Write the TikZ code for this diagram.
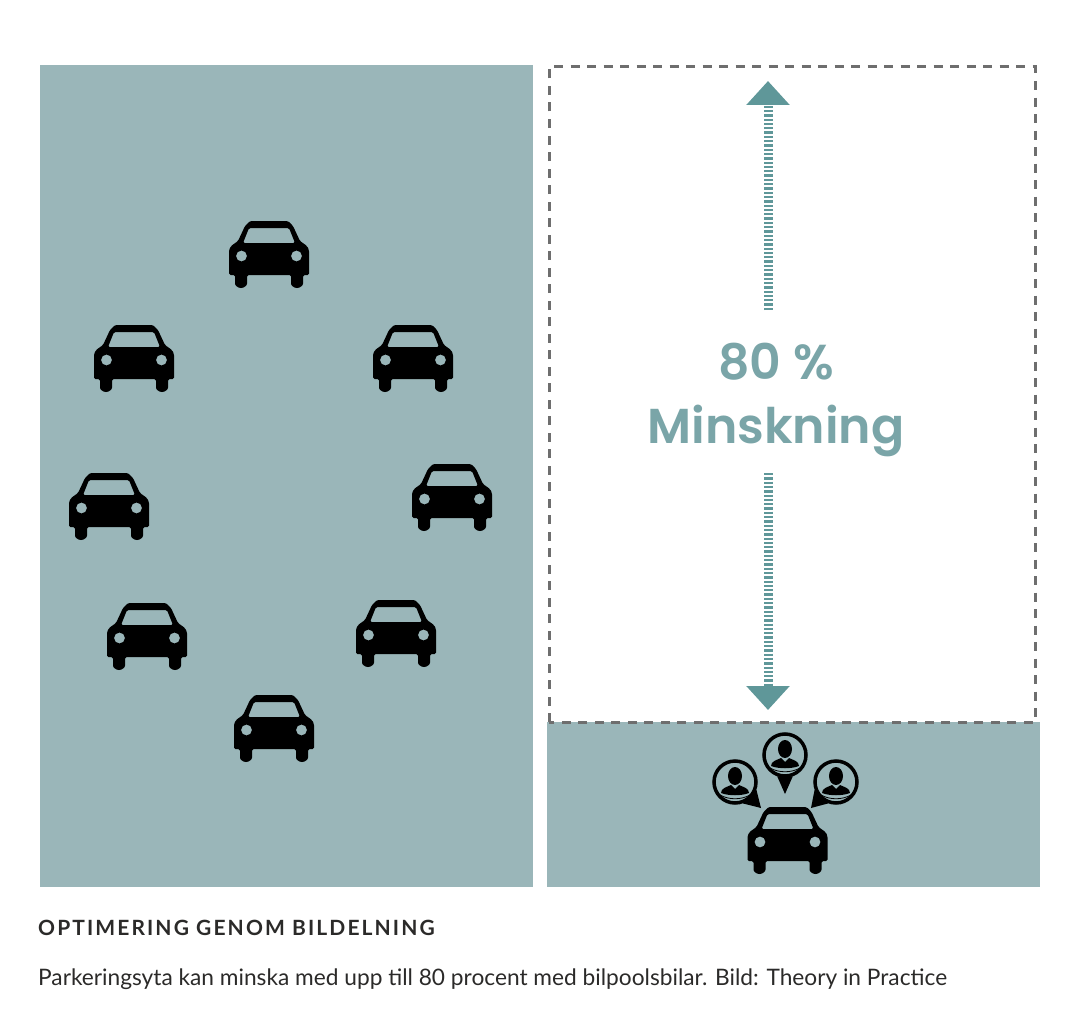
\documentclass[tikz,border=0pt]{standalone}
\usepackage{fontspec}
\setmainfont{Lato}
\newfontfamily\headfont{Poppins}[BoldFont={* SemiBold}]
\newfontfamily\spacedfont[LetterSpace=10]{Lato}
\usepackage{tikz}
\usetikzlibrary{arrows.meta}
\definecolor{parking}{HTML}{9AB6B9}
\definecolor{arrowteal}{HTML}{5F9799}
\definecolor{textteal}{HTML}{7AA5A8}
\definecolor{dashgray}{HTML}{6E6E6E}
\definecolor{captionink}{HTML}{2B2A29}
\tikzset{
	car/.pic={
		\fill [black,even odd rule,rounded corners=1.5pt]
			(-40,54) -- (-40,29) -- (-38,25) -- (-31,20) -- (-24,5) -- (-19,0) -- (19,0) -- (24,5) -- (31,20) -- (38,25) -- (40,29) -- (40,54)
			-- (34,54) -- (34,61) arc [start angle=0,end angle=180,radius=6] -- (22,54) -- (-22,54) -- (-22,61) arc [start angle=0,end angle=180,radius=6] -- (-34,54) -- cycle
			(-20,7) -- (20,7) -- (26,22) -- (-26,22) -- cycle
			(-27.5,35) circle [radius=5.5]
			(27.5,35) circle [radius=5.5];
	},
	person/.pic={
		\fill [black] (0,-6) ellipse [x radius=7,y radius=9];
		\fill [black] (-14,11) .. controls (-14,6) and (-8,5) .. (-4,3) -- (0,7) -- (4,3) .. controls (8,5) and (14,6) .. (14,11) .. controls (6,14) and (-6,14) .. (-14,11) -- cycle;
		\draw [black,line width=.8pt] (-15,13) .. controls (-6,18) and (6,18) .. (15,13);
	},
	ring/.style={draw=black,line width=3.5pt,circle,minimum size=42pt,inner sep=0pt},
	tail/.style={fill=black},
	block/.style={fill=parking},
	stripes/.style={draw=arrowteal,line width=9pt,dash pattern=on 2.3pt off 2pt,-{Triangle[width=42pt,length=24pt,fill=arrowteal]}}
}

\begin{document}
\begin{tikzpicture}[x=1pt,y=-1pt]
	\useasboundingbox (0,0) rectangle (1077,1025);

	\fill [block] (40,65) rectangle (533,887);
	\fill [block] (547,722) rectangle (1040,887);
	\draw [dashgray,line width=3pt,dash pattern=on 9pt off 7.5pt] (549,722) -- (549,67) -- (1035,67) -- (1035,722) -- cycle;

	\pic (cara) at (269,221) {car};
	\pic (carb) at (134,325) {car};
	\pic (carc) at (413,325) {car};
	\pic (card) at (109,473) {car};
	\pic (care) at (452,464) {car};
	\pic (carf) at (147,603) {car};
	\pic (carg) at (396,600) {car};
	\pic (carh) at (274,695) {car};
	\pic (shared) at (787.5,807) {car};

	\node [ring] (pinleft) at (735,782) {};
	\node [ring] (pinmid) at (785,755) {};
	\node [ring] (pinright) at (836,782) {};
	\coordinate (tipleft) at (761,808);
	\coordinate (tipmid) at (785,794);
	\coordinate (tipright) at (811,808);
	\fill [tail] (pinleft.-20) -- (tipleft) -- (pinleft.-70) -- cycle;
	\fill [tail] (pinmid.-70) -- (tipmid) -- (pinmid.-110) -- cycle;
	\fill [tail] (pinright.-110) -- (tipright) -- (pinright.-160) -- cycle;
	\pic (personleft) at (pinleft) {person};
	\pic (personmid) at (pinmid) {person};
	\pic (personright) at (pinright) {person};

	\node [textteal,font=\headfont\bfseries\fontsize{49}{60}\selectfont,inner sep=0pt] (percent) at (776,362) {80 \%};
	\node [textteal,font=\headfont\bfseries\fontsize{49}{60}\selectfont,inner sep=0pt] (minskning) at (776,431) {Minskning};

	\coordinate (upstart) at (768,310);
	\coordinate (uptip) at (768,81);
	\coordinate (downstart) at (768,473);
	\coordinate (downtip) at (768,710);
	\draw [stripes] (upstart) -- (uptip);
	\draw [stripes] (downstart) -- (downtip);

	\node [captionink,anchor=west,inner sep=0pt,font=\spacedfont\bfseries\fontsize{21}{26}\selectfont] (title) at (38,928) {OPTIMERING GENOM BILDELNING};
	\node [captionink,anchor=west,inner sep=0pt,font=\fontsize{22.7}{28}\selectfont] (caption) at (38,979) {Parkeringsyta kan minska med upp till 80 procent med bilpoolsbilar. Bild: Theory in Practice};
\end{tikzpicture}
\end{document}
